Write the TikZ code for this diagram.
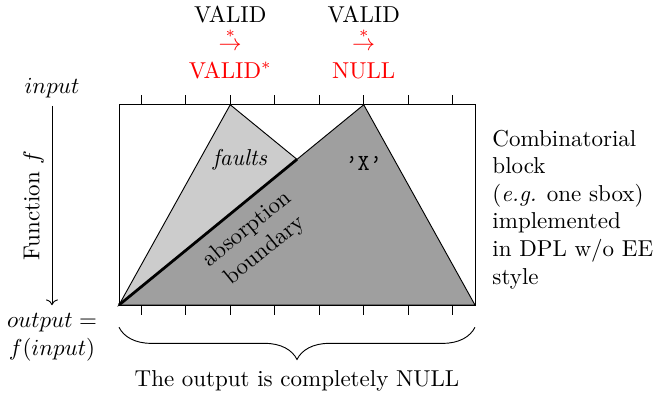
\documentclass[tikz,border=0pt]{standalone}
\usepackage{amsmath,amssymb}
\usepackage{tikz}
\usetikzlibrary{arrows.meta,decorations.pathreplacing}
\usepackage{xcolor}
\definecolor{faultgray}{gray}{0.8}
\definecolor{nullgray}{gray}{0.625}

\begin{document}
\begin{tikzpicture}[x=0.68cm, y=0.68cm]
      \useasboundingbox (-2.674,-2.09) rectangle (12.0,6.854);
      % shaded regions
      \filldraw[fill=faultgray] (0,0) -- (2.5,4.5) -- (4,3.273) -- cycle;
      \filldraw[fill=nullgray] (0,0) -- (5.5,4.5) -- (8,0) -- cycle;
      \draw[very thick] (0,0) -- (4,3.273);
      \draw (0,0) rectangle (8,4.5);
      \foreach \x in {0.5,1.5,...,7.5} {
        \draw (\x,4.5) -- (\x,4.725);
        \draw (\x,0) -- (\x,-0.225);
      }
      \node (flt) at (2.72,3.26) {\textit{faults}};
      \node (xval) at (5.5,3.19) {\texttt{\textquoteright X\textquoteright}};
      \node[rotate=39.3, align=center] (absb) at (3.08,1.46) {absorption\\boundary};
      % transitions above the peaks
      \node[align=center] (tleft) at (2.5,5.9) {VALID\\{\color{red}$\stackrel{*}{\rightarrow}$}\\{\color{red}VALID$^*$}};
      \node[align=center] (tright) at (5.5,5.9) {VALID\\{\color{red}$\stackrel{*}{\rightarrow}$}\\{\color{red}NULL}};
      % function arrow
      \node (inp) at (-1.506,4.876) {$input$};
      \node[align=center] (outp) at (-1.506,-0.72) {$output =$\\$f(input)$};
      \draw[->] (inp) -- (outp) node[midway, rotate=90, above] {Function $f$};
      % block description
      \node[anchor=west, align=left] (blk) at (8.21,2.15)
        {Combinatorial\\block\\(\textit{e.g.} one sbox)\\implemented\\in DPL w/o EE\\style};
      % output brace
      \coordinate (bl) at (0,-0.5);
      \coordinate (br) at (8,-0.5);
      \draw[decorate, decoration={brace, mirror, amplitude=14pt}] (bl) -- (br);
      \node (cap) at (4,-1.71) {The output is completely NULL};
    \end{tikzpicture}
\end{document}
